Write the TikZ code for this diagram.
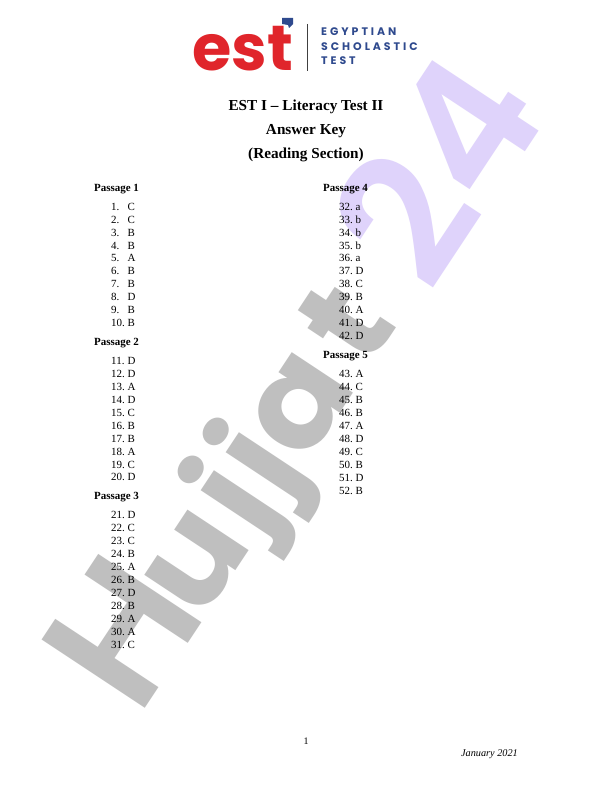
\documentclass[tikz,border=0pt]{standalone}
\usepackage{fontspec}
\setmainfont{Liberation Serif}
\newfontfamily\markfont{Poppins}
\newfontfamily\capfont{Poppins SemiBold}
\newfontfamily\brandfont[LetterSpace=27]{Poppins}
\definecolor{markgray}{HTML}{BFBFBF}
\definecolor{marklilac}{HTML}{DFD3FB}
\definecolor{estred}{HTML}{E0252B}
\definecolor{estblue}{HTML}{2F4A8E}
\tikzset{
  watermark/.style={inner sep=0pt,anchor=base west,rotate=56.5,font=\markfont\bfseries\fontsize{132}{132}\selectfont},
  brand/.style={inner sep=0pt,anchor=base west,text=estblue,font=\brandfont\bfseries\fontsize{11}{11}\selectfont},
  heading/.style={inner sep=0pt,anchor=base,font=\bfseries\fontsize{15.3}{15}\selectfont},
  passage/.style={inner sep=0pt,anchor=base west,font=\bfseries\fontsize{11}{11}\selectfont},
  answer/.style={inner sep=0pt,anchor=base west,font=\fontsize{11}{11}\selectfont}
}
\begin{document}
\begin{tikzpicture}[x=1bp,y=-1bp]
      \useasboundingbox(0,0)rectangle(612,792);
      \fill[color=white](0,0)rectangle(612,792);
      % watermark
      \node[watermark,text=markgray](markone) at (138.3,718.2){{\capfont\mdseries\fontsize{178}{178}\selectfont H}\kern-13bp\scalebox{1.07}[1]{u\kern6bp j\kern4bp j\kern1bp a\kern15bp t}};
      \node[watermark,text=marklilac,font=\capfont\fontsize{178}{178}\selectfont](marktwo) at (430,296){24};
      % logo
      \node[inner sep=0pt,anchor=base west,text=estred,font=\markfont\bfseries\fontsize{64}{64}\selectfont](estlogo) at (192,71){est};
      \fill[color=estblue](282,18)--(293,18)--(293,24)--(289,28)--(288,25)--(282,24)--cycle;
      \draw[color=darkgray,line width=0.8bp](307,24)--(307,71);
      \node[brand](brandone) at (321,36){EGYPTIAN};
      \node[brand](brandtwo) at (321,51){SCHOLASTIC};
      \node[brand](brandthree) at (321,65){TEST};
      % headings
      \node[heading](titleone) at (306,110){EST I – Literacy Test II};
      \node[heading](titletwo) at (306,134){Answer Key};
      \node[heading](titlethree) at (306,158){(Reading Section)};
      \foreach \n/\x/\y in{%
        1/94/191, 2/94/345, 3/94/499,
        4/323/191, 5/323/358
      }{
        \node[passage](passage\n) at (\x,\y){Passage \n};
      }
      % first column
      \foreach \n/\a/\y in{%
        1/C/210, 2/C/223, 3/B/236, 4/B/249, 5/A/261, 6/B/274, 7/B/287, 8/D/300, 9/B/313, 10/B/326,
        11/D/364, 12/D/377, 13/A/390, 14/D/403, 15/C/416, 16/B/429, 17/B/442, 18/A/455, 19/C/468, 20/D/480,
        21/D/518, 22/C/531, 23/C/544, 24/B/557, 25/A/570, 26/B/583, 27/D/596, 28/B/609, 29/A/622, 30/A/635, 31/C/648
      }{
        \node[answer](answer\n) at (111,\y){\makebox[16.5bp][l]{\n.}\a};
      }
      % second column
      \foreach \n/\a/\y in{%
        32/a/210, 33/b/223, 34/b/236, 35/b/249, 36/a/261, 37/D/274, 38/C/287, 39/B/300, 40/A/313, 41/D/326, 42/D/339,
        43/A/377, 44/C/390, 45/B/403, 46/B/416, 47/A/429, 48/D/442, 49/C/455, 50/B/468, 51/D/481, 52/B/494
      }{
        \node[answer](answer\n) at (339,\y){\makebox[16.5bp][l]{\n.}\a};
      }
      % footer
      \node[inner sep=0pt,anchor=base,font=\fontsize{10}{10}\selectfont](pagenum) at (306,744){1};
      \node[inner sep=0pt,anchor=base east,font=\itshape\fontsize{10.3}{10}\selectfont](datenote) at (518,756){January 2021};
    \end{tikzpicture}
\end{document}
